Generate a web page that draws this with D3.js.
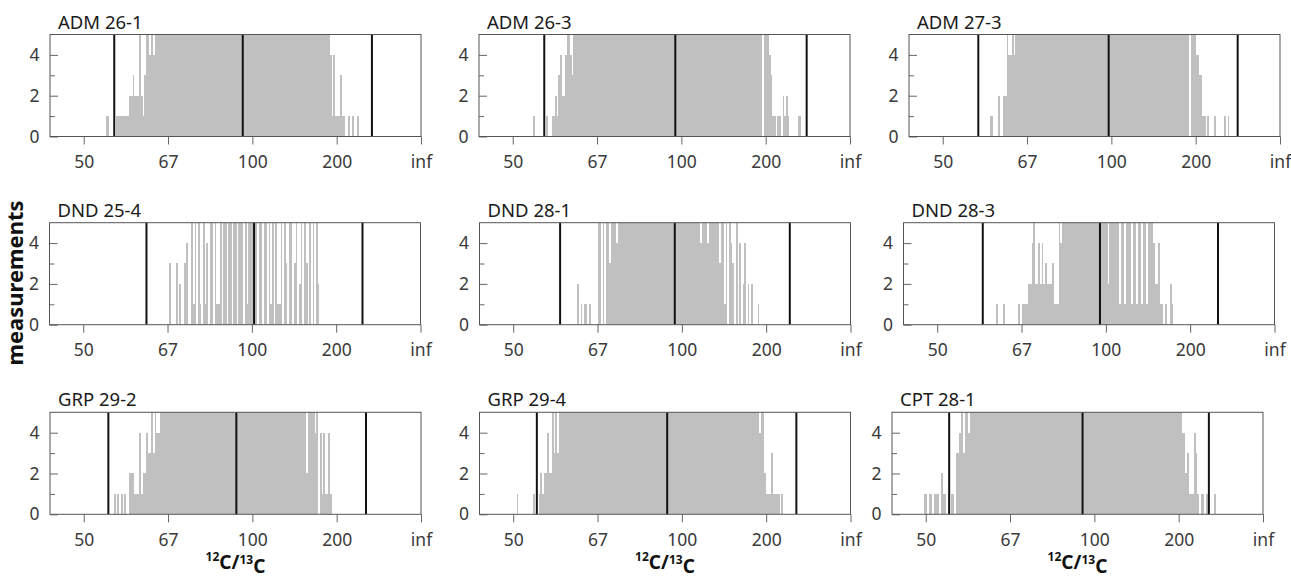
<!DOCTYPE html>
<html>
<head>
<meta charset="utf-8">
<script src="https://cdn.jsdelivr.net/npm/d3@7"></script>
<style>
  body { margin: 0; background: #fff; }
  text { font-family: "Noto Sans", "Open Sans", sans-serif; }
</style>
</head>
<body>
<div id="canvas"></div>
<script>
const panelNames = ["ADM 26-1", "ADM 26-3", "ADM 27-3",
                    "DND 25-4", "DND 28-1", "DND 28-3",
                    "GRP 29-2", "GRP 29-4", "CPT 28-1"];

// 13C/12C at the upper edge of the first bin of every histogram
const binStart = [0.0187, 0.0188, 0.0172, 0.0149, 0.0162, 0.0165, 0.0182, 0.0198, 0.0201];
const binWidth = 0.0001;

// counts per bin, run-length coded as [count, number of bins], going to lower 13C/12C
const runs1 = [[1,2],[0,4],[1,8],[2,2],[3,1],[2,3],[5,1],[2,1],[1,1],[3,1],[5,2],[4,1],[5,1],[4,1],[5,104],[4,1],[1,1],[4,1],[1,3],[3,1],[1,2],[0,2],[1,1],[0,1],[1,1],[0,2],[1,1]];
const runs2 = [[1,1],[0,7],[1,1],[0,2],[1,2],[2,1],[1,1],[3,1],[4,1],[2,2],[4,1],[5,2],[4,1],[3,1],[5,112],[0,1],[5,3],[4,1],[3,1],[1,2],[0,1],[1,2],[0,1],[2,1],[1,1],[2,1],[1,1],[0,5],[1,2]];
const runs3 = [[1,2],[0,3],[2,1],[0,2],[2,2],[5,1],[4,2],[5,1],[4,1],[5,103],[0,1],[5,3],[4,2],[3,2],[1,2],[0,1],[1,1],[0,3],[1,1],[0,5],[1,1],[0,1],[1,1]];
const runs4 = [[3,1],[0,3],[3,1],[0,1],[2,1],[0,2],[3,1],[4,1],[0,2],
  [5,1],[1,1],[5,1],[0,1],[5,1],[1,1],[0,1],[5,1],[1,1],[4,1],[0,1],[5,2],[0,1],[5,1],[1,2],[5,1],[0,1],
  [5,2],[0,1],[5,2],[0,1],[5,2],[0,1],[5,3],[0,1],[5,1],[1,1],[5,5],[0,1],[5,2],[0,1],[5,2],[0,1],
  [5,1],[1,1],[5,1],[0,1],[5,1],[1,2],[5,1],[0,1],[5,1],[3,1],[0,1],[5,2],[0,1],[3,1],[5,1],[0,1],
  [2,1],[5,1],[0,1],[5,1],[3,1],[0,1],[5,1],[0,1],[5,1],[0,1],[5,1],[2,1]];
const runs5 = [[2,1],[0,1],[1,1],[0,1],[1,2],[0,1],[1,1],[0,4],[5,2],[0,1],[5,1],[0,1],[5,2],[3,1],[5,3],[4,1],[5,49],[4,1],[5,3],[4,1],[5,6],[3,1],[5,2],[1,1],[5,1],[0,1],[5,1],[4,1],[3,1],[0,1],[5,1],[0,1],[4,1],[0,1],[2,1],[4,1],[0,1],[2,1],[0,1],[2,1],[0,3],[1,1]];
const runs6 = [[1,1],[0,3],[1,1],[0,8],[1,1],[0,1],[1,4],[2,2],[4,1],[5,1],[2,2],[4,1],[2,1],[4,1],[2,1],[3,1],[2,3],[3,1],[1,3],[5,1],[4,1],[5,27],[2,1],[5,6],[1,1],[5,2],[1,1],[5,3],[1,1],[5,2],[1,1],[5,2],[1,1],[5,2],[1,1],[5,3],[4,1],[2,2],[4,1],[1,2],[0,1],[1,1],[0,2],[2,1],[1,1]];
const runs7 = [[1,1],[0,1],[1,1],[0,1],[1,1],[0,1],[1,1],[0,2],[2,3],[1,3],[4,1],[1,1],[2,2],[4,1],[3,2],[5,1],[3,1],[5,1],[4,2],[5,87],[2,1],[5,4],[4,1],[5,1],[0,1],[4,1],[1,1],[4,1],[1,2],[4,1],[1,1]];
const runs8 = [[1,1],[0,9],[1,1],[0,2],[1,1],[2,1],[1,1],[2,2],[4,1],[2,2],[5,1],[3,1],[5,1],[3,1],[5,119],[4,1],[5,2],[2,1],[1,3],[3,1],[1,4],[0,1],[1,1]];
const runs9 = [[1,2],[0,1],[1,2],[0,1],[1,3],[0,1],[2,1],[1,2],[0,1],[1,1],[0,1],[1,2],[0,1],[3,2],[4,1],[5,1],[3,1],[5,2],[4,1],[5,126],[4,2],[2,1],[3,1],[1,3],[4,1],[3,1],[1,1],[0,1],[1,2],[0,1],[1,2],[0,3],[1,1]];
const panelRuns = [runs1, runs2, runs3, runs4, runs5, runs6, runs7, runs8, runs9];

// black reference lines (13C/12C): lower limit, mean, upper limit
const lowLine  = [0.01819, 0.01813, 0.01789, 0.01625, 0.01722, 0.01730, 0.01854, 0.01860, 0.01861];
const meanLine = [0.01057, 0.01036, 0.01016, 0.00987, 0.01042, 0.01035, 0.01095, 0.01087, 0.01070];
const highLine = [0.00291, 0.00257, 0.00251, 0.00344, 0.00360, 0.00335, 0.00326, 0.00321, 0.00321];

const xTickValues = [0.02, 0.015, 0.01, 0.005, 0];
const yTickValues = [0, 2, 4];
const yMinorValues = [1, 3];

// layout
const w = 1291, h = 578;
const panelLeft = [50, 479, 909, 49.5, 479.5, 903.5, 50, 479.5, 892];
const rowTop = [34.5, 222.7, 412.3];
const pw = 371, ph = 102;

function decode(start, runs){
  let bins = [];
  let idx = Math.round(start / binWidth);
  runs.forEach(function(r){
    for (let j = 0; j < r[1]; j++){
      bins.push({hi: idx * binWidth, lo: (idx - 1) * binWidth, n: r[0]});
      idx--;
    }
  });
  return bins.filter(d => d.n > 0);
}

function render(){
  let svg = d3.select("#canvas")
              .append("svg")
              .attr("width", w)
              .attr("height", h);

  let x = d3.scaleLinear().domain([0.022, 0]).range([0, pw]);
  let y = d3.scaleLinear().domain([0, 5]).range([ph, 0]);

  svg.append("defs").append("clipPath")
      .attr("id", "plotclip")
    .append("rect")
      .attr("width", pw).attr("height", ph);

  panelNames.forEach(function(name, i){
    const row = Math.floor(i / 3);
    let g = svg.append("g")
               .attr("transform", "translate(" + panelLeft[i] + "," + rowTop[row] + ")");

    let bins = decode(binStart[i], panelRuns[i]);

    g.append("g")
      .attr("clip-path", "url(#plotclip)")
      .selectAll("rect")
      .data(bins)
      .enter()
        .append("rect")
        .attr("x", d => x(d.hi))
        .attr("width", d => x(d.lo) - x(d.hi))
        .attr("y", d => y(Math.min(d.n, 5)))
        .attr("height", d => ph - y(Math.min(d.n, 5)))
        .attr("fill", "#c0c0c0")
        .attr("shape-rendering", "crispEdges");

    g.selectAll(".vline")
      .data([lowLine[i], meanLine[i], highLine[i]])
      .enter()
        .append("line")
        .attr("x1", d => x(d)).attr("x2", d => x(d))
        .attr("y1", 0).attr("y2", ph)
        .attr("stroke", "#111")
        .attr("stroke-width", 2);

    // x axis
    let xa = g.append("g")
              .attr("transform", "translate(0," + ph + ")")
              .call(d3.axisBottom(x)
                      .tickValues(xTickValues)
                      .tickFormat(d => d === 0 ? "inf" : Math.round(1 / d))
                      .tickSize(8)
                      .tickPadding(11));
    // y axis, ticks pointing inward
    let ya = g.append("g")
              .call(d3.axisLeft(y)
                      .tickValues(yTickValues)
                      .tickFormat(d3.format("d"))
                      .tickSizeInner(-8)
                      .tickSizeOuter(0)
                      .tickPadding(10.5));
    let ym = g.append("g")
              .call(d3.axisLeft(y)
                      .tickValues(yMinorValues)
                      .tickFormat("")
                      .tickSizeInner(-5)
                      .tickSizeOuter(0));

    [xa, ya, ym].forEach(function(a){
      a.select(".domain").remove();
      a.selectAll("line").attr("stroke", "#666");
      a.selectAll("text")
        .attr("fill", "#3a3a3a")
        .style("font-size", "17.5px")
        .style("font-family", "'Noto Sans', sans-serif");
    });

    g.append("rect")
      .attr("width", pw).attr("height", ph)
      .attr("fill", "none")
      .attr("stroke", "#555")
      .attr("stroke-width", 1);

    g.append("text")
      .attr("x", 8).attr("y", -6)
      .attr("fill", "#1a1a1a")
      .style("font-size", "18.5px")
      .text(name);

    if (row === 2){
      let lab = g.append("text")
                 .attr("x", pw / 2).attr("y", ph + 52)
                 .attr("text-anchor", "middle")
                 .attr("fill", "#111")
                 .style("font-weight", "bold")
                 .style("font-size", "19px");
      lab.append("tspan").attr("dy", "-0.45em").style("font-size", "12px").text("12");
      lab.append("tspan").attr("dy", "0.45em").text("C/");
      lab.append("tspan").attr("dy", "-0.45em").style("font-size", "12px").text("13");
      lab.append("tspan").attr("dy", "0.45em").text("C");
    }
  });

  svg.append("text")
      .attr("transform", "translate(23,283) rotate(-90)")
      .attr("text-anchor", "middle")
      .attr("fill", "#111")
      .style("font-weight", "bold")
      .style("font-size", "22px")
      .text("measurements");
}

render();
</script>
</body>
</html>
